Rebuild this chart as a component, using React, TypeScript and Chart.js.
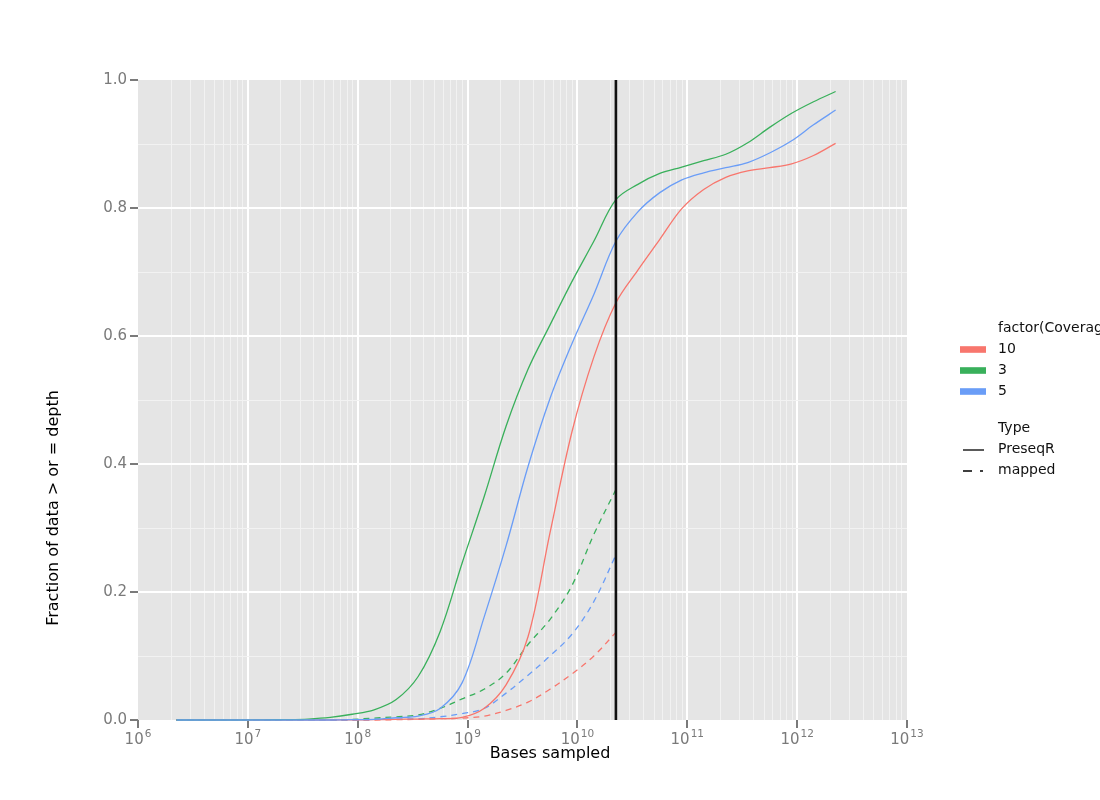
import React, { useEffect, useRef } from 'react';
import { Chart, registerables } from 'chart.js';
Chart.register(...registerables);

// ---- data ----
const bases = [
  2.24e6, 3.55e6, 5.62e6, 8.91e6, 1.41e7, 2.24e7, 3.55e7, 5.62e7, 8.91e7,
  1.41e8, 2.24e8, 3.55e8, 5.62e8, 8.91e8, 1.41e9, 2.24e9, 3.55e9, 5.62e9, 8.91e9,
  1.41e10, 2.24e10, 3.55e10, 5.62e10, 8.91e10, 1.41e11, 2.24e11, 3.55e11, 5.62e11, 8.91e11,
  1.41e12, 2.24e12,
];

const preseq10 = [0, 0, 0, 0, 0, 0, 0, 0, 0.0003, 0.0005, 0.001, 0.0015, 0.002, 0.004, 0.018, 0.055, 0.13, 0.292, 0.45, 0.567, 0.652, 0.703, 0.751, 0.799, 0.829, 0.848, 0.858, 0.863, 0.869, 0.882, 0.901];
const preseq3 = [0, 0, 0, 0, 0.0003, 0.0006, 0.0015, 0.004, 0.009, 0.016, 0.032, 0.068, 0.138, 0.245, 0.348, 0.459, 0.548, 0.617, 0.685, 0.748, 0.813, 0.837, 0.854, 0.864, 0.874, 0.884, 0.902, 0.926, 0.948, 0.966, 0.982];
const preseq5 = [0, 0, 0, 0, 0, 0, 0, 0, 0.0005, 0.001, 0.0035, 0.006, 0.018, 0.058, 0.16, 0.272, 0.396, 0.502, 0.588, 0.665, 0.748, 0.794, 0.824, 0.844, 0.855, 0.863, 0.871, 0.886, 0.905, 0.93, 0.953];

const mapped10 = [0, 0, 0, 0, 0, 0, 0, 0, 0, 0, 0.0005, 0.001, 0.002, 0.003, 0.006, 0.015, 0.028, 0.048, 0.072, 0.1, 0.137];
const mapped3 = [0, 0, 0, 0, 0, 0, 0, 0, 0.001, 0.003, 0.005, 0.008, 0.018, 0.033, 0.048, 0.073, 0.118, 0.157, 0.21, 0.29, 0.36];
const mapped5 = [0, 0, 0, 0, 0, 0, 0, 0, 0, 0.001, 0.0015, 0.002, 0.005, 0.01, 0.018, 0.042, 0.07, 0.1, 0.134, 0.185, 0.258];

const cutoffBases = 2.24e10;

const coverageLevels = ['10', '3', '5'];
const coverageColors = ['#F8766D', '#39B05B', '#6A9DF7'];
const typeLevels = ['PreseqR', 'mapped'];

const xDecades = [1e6, 1e7, 1e8, 1e9, 1e10, 1e11, 1e12, 1e13];
const xExponents = ['6', '7', '8', '9', '10', '11', '12', '13'];
const xMinorSteps = [2, 3, 4, 5, 6, 7, 8, 9];
const yMajor = [0, 0.2, 0.4, 0.6, 0.8, 1.0];
const yMinor = [0.1, 0.3, 0.5, 0.7, 0.9];

const FONT = '"DejaVu Sans", sans-serif';
const TICK_GRAY = '#7a7a7a';

function pts(ys: number[]) {
  return ys.map((y, i) => ({ x: bases[i], y }));
}

function isDecade(v: number) {
  return xDecades.some((d) => Math.abs(v - d) / d < 1e-9);
}
function isYMajor(v: number) {
  return yMajor.some((d) => Math.abs(v - d) < 1e-9);
}

const decorPlugin = {
  id: 'decor',
  beforeDraw(chart: any) {
    const { ctx, chartArea: a } = chart;
    ctx.save();
    ctx.fillStyle = '#ffffff';
    ctx.fillRect(0, 0, chart.width, chart.height);
    ctx.fillStyle = '#e5e5e5';
    ctx.fillRect(a.left, a.top, a.right - a.left, a.bottom - a.top);
    ctx.restore();
  },
  afterDraw(chart: any) {
    const { ctx } = chart;
    const xs = chart.scales.x;
    ctx.save();
    // x tick labels 10^n
    xDecades.forEach((v, i) => {
      const px = xs.getPixelForValue(v);
      ctx.font = `15px ${FONT}`;
      const w1 = ctx.measureText('10').width;
      ctx.font = `10.5px ${FONT}`;
      const w2 = ctx.measureText(xExponents[i]).width;
      const start = px - (w1 + 1 + w2) / 2;
      ctx.fillStyle = TICK_GRAY;
      ctx.textBaseline = 'alphabetic';
      ctx.textAlign = 'left';
      ctx.font = `15px ${FONT}`;
      ctx.fillText('10', start, 744);
      ctx.font = `10.5px ${FONT}`;
      ctx.fillText(xExponents[i], start + w1 + 1, 737);
    });
    // axis titles
    ctx.fillStyle = '#000000';
    ctx.font = `16px ${FONT}`;
    ctx.textAlign = 'center';
    ctx.textBaseline = 'middle';
    ctx.fillText('Bases sampled', 550, 754);
    ctx.save();
    ctx.translate(54, 508);
    ctx.rotate(-Math.PI / 2);
    ctx.fillText('Fraction of data > or = depth', 0, 0);
    ctx.restore();
    // legend
    ctx.font = `14px ${FONT}`;
    ctx.textAlign = 'left';
    ctx.fillStyle = '#111111';
    ctx.fillText('factor(Coverage)', 998, 328);
    coverageLevels.forEach((lab, i) => {
      const cy = 349.5 + i * 21;
      ctx.fillStyle = coverageColors[i];
      ctx.fillRect(960, cy - 3.3, 26, 6.6);
      ctx.fillStyle = '#111111';
      ctx.fillText(lab, 998, cy);
    });
    ctx.fillText('Type', 998, 428);
    ctx.fillText(typeLevels[0], 998, 449.5);
    ctx.fillText(typeLevels[1], 998, 470.5);
    ctx.strokeStyle = '#000000';
    ctx.lineWidth = 1.3;
    ctx.beginPath();
    ctx.moveTo(963, 450);
    ctx.lineTo(984, 450);
    ctx.stroke();
    ctx.beginPath();
    ctx.moveTo(963, 471);
    ctx.lineTo(972, 471);
    ctx.moveTo(980, 471);
    ctx.lineTo(983, 471);
    ctx.stroke();
    ctx.restore();
  },
};

function line(label: string, data: any[], color: string, dashed: boolean) {
  return {
    label,
    data,
    borderColor: color,
    backgroundColor: color,
    borderWidth: 1.3,
    borderDash: dashed ? [6, 5] : [],
    pointRadius: 0,
    tension: 0.35,
    fill: false,
    clip: false as any,
  };
}

export default function App() {
  const ref = useRef<HTMLCanvasElement>(null);
  useEffect(() => {
    if (!ref.current) return;
    const chart = new Chart(ref.current, {
      type: 'line',
      data: {
        datasets: [
          {
            label: 'cutoff',
            data: [{ x: cutoffBases, y: 0 }, { x: cutoffBases, y: 1 }],
            borderColor: '#111111',
            borderWidth: 2.6,
            pointRadius: 0,
            tension: 0,
            fill: false,
            clip: false as any,
          },
          line('PreseqR 5', pts(preseq5), coverageColors[2], false),
          line('PreseqR 3', pts(preseq3), coverageColors[1], false),
          line('PreseqR 10', pts(preseq10), coverageColors[0], false),
          line('mapped 5', pts(mapped5), coverageColors[2], true),
          line('mapped 3', pts(mapped3), coverageColors[1], true),
          line('mapped 10', pts(mapped10), coverageColors[0], true),
        ],
      },
      options: {
        animation: false,
        responsive: false,
        devicePixelRatio: 1,
        layout: { padding: { left: 0, top: 80, right: 193, bottom: 0 } },
        plugins: { legend: { display: false }, tooltip: { enabled: false } },
        scales: {
          x: {
            type: 'logarithmic',
            min: 1e6,
            max: 1e13,
            afterBuildTicks: (s: any) => {
              const t: any[] = [];
              xDecades.forEach((d, i) => {
                t.push({ value: d });
                if (i < xDecades.length - 1) xMinorSteps.forEach((m) => t.push({ value: d * m }));
              });
              s.ticks = t;
            },
            afterFit: (s: any) => { s.height = 80; },
            ticks: { display: false, autoSkip: false },
            border: { display: false },
            grid: {
              color: (c: any) => {
                const v = c.tick ? c.tick.value : 0;
                if (v <= 1e6 * 1.0001 || v >= 1e13 * 0.9999) return 'rgba(0,0,0,0)';
                return isDecade(v) ? '#ffffff' : '#f2f2f2';
              },
              lineWidth: (c: any) => (c.tick && isDecade(c.tick.value) ? 2 : 1),
              tickColor: (c: any) => (c.tick && isDecade(c.tick.value) ? TICK_GRAY : 'rgba(0,0,0,0)'),
              tickLength: 8,
              tickWidth: 2,
              drawTicks: true,
            },
          },
          y: {
            type: 'linear',
            min: 0,
            max: 1,
            afterBuildTicks: (s: any) => {
              s.ticks = [...yMajor, ...yMinor].sort((a, b) => a - b).map((v) => ({ value: v }));
            },
            afterFit: (s: any) => { s.width = 138; },
            ticks: {
              autoSkip: false,
              padding: 3,
              color: TICK_GRAY,
              font: { family: FONT, size: 15 },
              callback: (v: any) => (isYMajor(Number(v)) ? Number(v).toFixed(1) : ''),
            },
            border: { display: false },
            grid: {
              color: (c: any) => {
                const v = c.tick ? c.tick.value : 0;
                if (v <= 0.0001 || v >= 0.9999) return 'rgba(0,0,0,0)';
                return isYMajor(v) ? '#ffffff' : '#f2f2f2';
              },
              lineWidth: (c: any) => (c.tick && isYMajor(c.tick.value) ? 2 : 1),
              tickColor: (c: any) => (c.tick && isYMajor(c.tick.value) ? TICK_GRAY : 'rgba(0,0,0,0)'),
              tickLength: 8,
              tickWidth: 2,
            },
          },
        },
      } as any,
      plugins: [decorPlugin],
    });
    return () => chart.destroy();
  }, []);
  return (
    <div style={{ position: 'fixed', left: 0, top: 0, width: 1100, height: 800, background: '#fff' }}>
      <canvas ref={ref} width={1100} height={800} style={{ width: 1100, height: 800, display: 'block' }} />
    </div>
  );
}
